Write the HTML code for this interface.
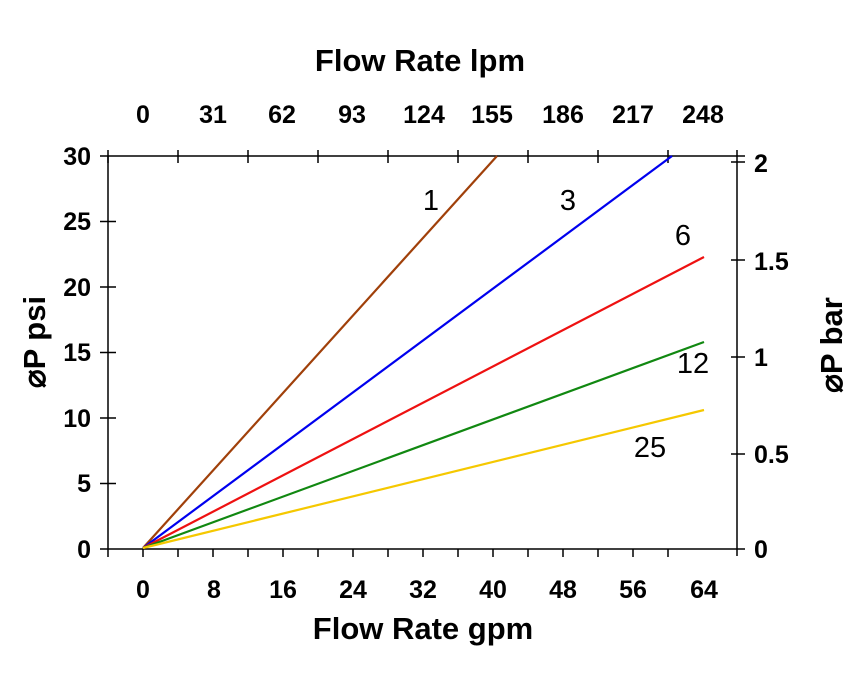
<!DOCTYPE html>
<html><head><meta charset="utf-8"><style>body{margin:0;background:#fff}</style></head><body>
<svg width="858" height="668" xmlns="http://www.w3.org/2000/svg" font-family="Liberation Sans, Arial, sans-serif">
<rect width="858" height="668" fill="#fff"/>
<g stroke="#000" stroke-width="1.5" fill="none">
<line x1="100" y1="156" x2="745" y2="156"/>
<line x1="108" y1="156" x2="108" y2="549"/>
<line x1="100" y1="549" x2="745" y2="549"/>
<line x1="737" y1="150" x2="737" y2="556"/>
<path d="M108 150V163 M178 150V163 M248 150V163 M318 150V163 M388 150V163 M458 150V163 M528 150V163 M598 150V163 M668 150V163"/>
<path d="M108 549V557 M143 549V557 M178 549V557 M213 549V557 M248 549V557 M283 549V557 M318 549V557 M353 549V557 M388 549V557 M423 549V557 M458 549V557 M493 549V557 M528 549V557 M563 549V557 M598 549V557 M633 549V557 M668 549V557"/>
<path d="M100 221.5H116 M100 287H116 M100 352.5H116 M100 418H116 M100 483.5H116"/>
<path d="M731 162H745 M731 260H745 M731 357H745 M731 454H745"/>
</g>
<g fill="none" stroke-width="2.2">
<line x1="143" y1="548" x2="497" y2="156" stroke="#a0400a"/>
<line x1="143" y1="548" x2="672" y2="156" stroke="#0000ee"/>
<line x1="143" y1="548" x2="704" y2="257" stroke="#ee1111"/>
<line x1="143" y1="548" x2="704" y2="342" stroke="#118811"/>
<line x1="143" y1="548" x2="704" y2="410" stroke="#f5c800"/>
</g>
<g font-size="25" font-weight="bold" text-anchor="middle">
<text x="143" y="123">0</text><text x="213" y="123">31</text><text x="282" y="123">62</text><text x="352" y="123">93</text><text x="424" y="123">124</text><text x="492" y="123">155</text><text x="563" y="123">186</text><text x="633" y="123">217</text><text x="703" y="123">248</text>
<text x="143" y="598">0</text><text x="214" y="598">8</text><text x="283" y="598">16</text><text x="353" y="598">24</text><text x="423" y="598">32</text><text x="493" y="598">40</text><text x="563" y="598">48</text><text x="633" y="598">56</text><text x="704" y="598">64</text>
</g>
<g font-size="25" font-weight="bold" text-anchor="end">
<text x="91" y="165">30</text><text x="91" y="230">25</text><text x="91" y="296">20</text><text x="91" y="361">15</text><text x="91" y="427">10</text><text x="91" y="492">5</text><text x="91" y="558">0</text>
</g>
<g font-size="25" font-weight="bold" text-anchor="start">
<text x="754" y="172">2</text><text x="754" y="270">1.5</text><text x="754" y="366">1</text><text x="754" y="463">0.5</text><text x="754" y="558">0</text>
</g>
<g font-size="31" font-weight="bold" text-anchor="middle">
<text x="420" y="71">Flow Rate lpm</text>
<text x="423" y="639">Flow Rate gpm</text>
<text transform="translate(45,342) rotate(-90)">⌀P psi</text>
<text transform="translate(842,345) rotate(-90)">⌀P bar</text>
</g>
<g font-size="29" text-anchor="middle">
<text x="431" y="210">1</text><text x="568" y="210">3</text><text x="683" y="245">6</text><text x="693" y="373">12</text><text x="650" y="457">25</text>
</g>
</svg>
</body></html>
